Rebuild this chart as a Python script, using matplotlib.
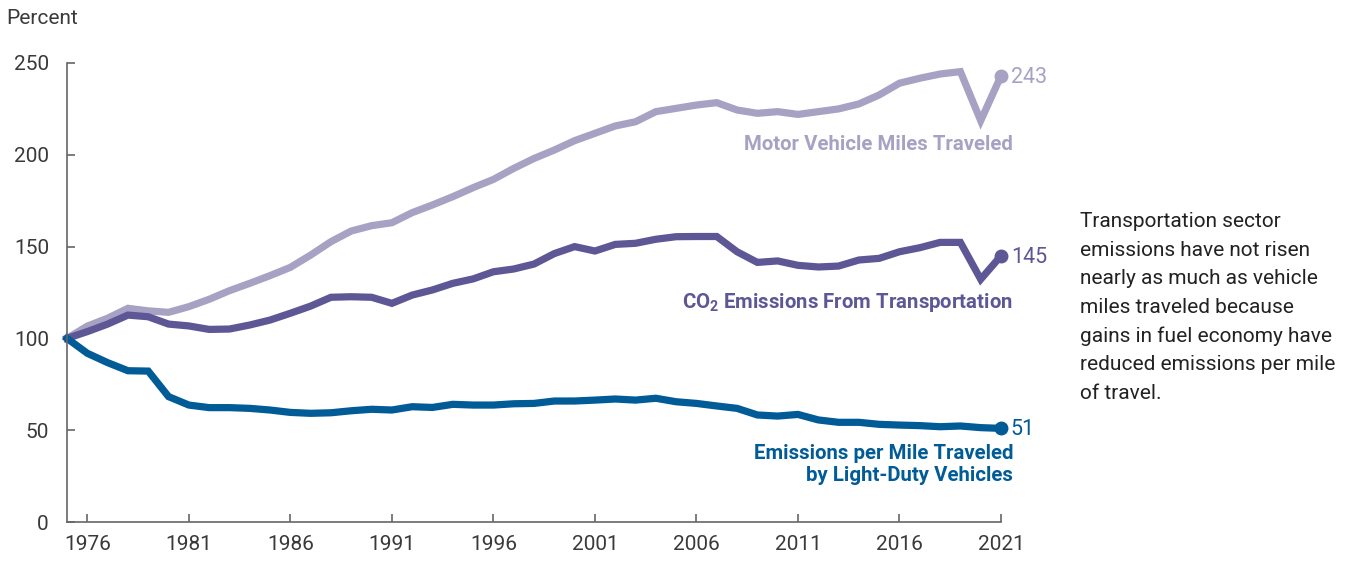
import numpy as np
import matplotlib
matplotlib.use("Agg")
import matplotlib.pyplot as plt

plt.rcParams['font.family'] = ['Roboto', 'DejaVu Sans']
plt.rcParams['mathtext.fontset'] = 'custom'
plt.rcParams['mathtext.rm'] = 'Roboto'
plt.rcParams['mathtext.bf'] = 'Roboto:bold'

years = list(range(1975, 2022))

# Motor vehicle miles traveled (index, 1975 = 100)
vmt = [100, 106.7, 111, 116.4, 115, 114.2, 117.3, 121.3, 126, 130,
       134.2, 138.7, 145.4, 152.7, 158.5, 161.4, 163, 168.5, 172.7, 177.2,
       182.1, 186.6, 192.6, 198, 202.6, 207.7, 211.7, 215.7, 218, 223.5,
       225.3, 227.1, 228.4, 224.4, 222.6, 223.5, 222, 223.5, 225, 227.7,
       232.6, 239, 241.7, 244, 245.3, 218.6, 243]

# CO2 emissions from transportation
co2 = [100, 103.7, 107.8, 112.7, 111.8, 107.8, 106.8, 104.9, 105.1, 107.3,
       110, 113.7, 117.6, 122.4, 122.7, 122.4, 119.1, 123.6, 126.4, 130,
       132.4, 136.3, 137.8, 140.5, 146.2, 150, 147.6, 151.2, 151.8, 154,
       155.4, 155.5, 155.5, 147.2, 141.4, 142.2, 139.8, 138.9, 139.4, 142.7,
       143.6, 147.2, 149.4, 152.3, 152.3, 132.2, 145]

# Emissions per mile traveled by light-duty vehicles
per_mile = [100, 91.9, 86.8, 82.4, 82.2, 68.3, 63.7, 62.3, 62.3, 61.9,
            61, 59.7, 59.2, 59.5, 60.6, 61.4, 61, 62.8, 62.4, 64.1,
            63.7, 63.7, 64.4, 64.6, 65.9, 65.9, 66.4, 67, 66.4, 67.4,
            65.5, 64.6, 63.2, 61.9, 58.3, 57.7, 58.6, 55.6, 54.3, 54.3,
            53.2, 52.8, 52.5, 51.9, 52.3, 51.4, 51]

end_labels = ['243', '145', '51']
series_names = ['Motor Vehicle Miles Traveled',
                r'CO$_\mathbf{2}$ Emissions From Transportation',
                'Emissions per Mile Traveled\nby Light-Duty Vehicles']
x_ticks = list(range(1976, 2022, 5))
y_ticks = [0, 50, 100, 150, 200, 250]

note = ("Transportation sector\nemissions have not risen\n"
        "nearly as much as vehicle\nmiles traveled because\n"
        "gains in fuel economy have\nreduced emissions per mile\nof travel.")

colors = ['#a7a2c3', '#5d5795', '#005b96']

fig = plt.figure(figsize=(13.54, 5.63), dpi=100)
ax = fig.add_axes([0.0495, 0.0728, 0.6898, 0.8153])

for vals, c in zip([vmt, co2, per_mile], colors):
    ax.plot(years, vals, color=c, lw=5.2, solid_joinstyle='miter', clip_on=False)
    ax.plot(years[-1], vals[-1], 'o', color=c, ms=9, clip_on=False)

ax.set_xlim(1975, 2021)
ax.set_ylim(0, 250)
ax.set_xticks(x_ticks)
ax.set_yticks(y_ticks)
for s in ['top', 'right']:
    ax.spines[s].set_visible(False)
for s in ['left', 'bottom']:
    ax.spines[s].set_color('#666666')
    ax.spines[s].set_linewidth(1.2)
ax.tick_params(axis='both', direction='in', length=6, width=1.2, color='#666666',
               labelsize=15, labelcolor='#3a3a3a')
ax.tick_params(axis='x', pad=9)
ax.tick_params(axis='y', pad=13)

# end value labels
for vals, lab, c in zip([vmt, co2, per_mile], end_labels, colors):
    ax.annotate(lab, (years[-1], vals[-1]), xytext=(7, -1), textcoords='offset points',
                ha='left', va='center', fontsize=15.5, color=c)

# series labels
lab_y = [205.5, 119.3, 31.3]
for name, y, c in zip(series_names, lab_y, colors):
    ax.text(2021.6, y, name, ha='right', va='center', fontsize=14.7,
            fontweight='bold', color=c, linespacing=1.2)

fig.text(0.0045, 0.968, 'Percent', ha='left', va='center', fontsize=15, color='#3a3a3a')
fig.text(0.798, 0.623, note, ha='left', va='top', fontsize=15, color='#222222',
         linespacing=1.63)

fig.savefig('out.png', dpi=100)
